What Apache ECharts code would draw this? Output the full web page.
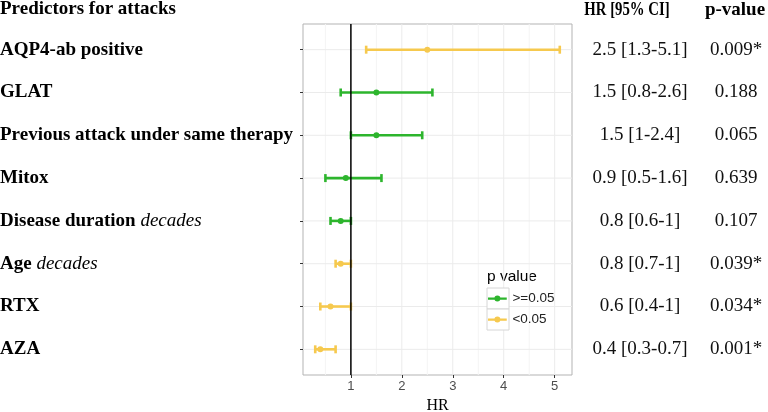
<!DOCTYPE html>
<html><head><meta charset="utf-8">
<script src="https://cdn.jsdelivr.net/npm/echarts@6/dist/echarts.min.js"></script>
<style>html,body{margin:0;padding:0;background:#fff}#c{width:768px;height:412px}</style>
</head><body><div id="c"></div>
<script>
const predictors = ['AQP4-ab positive','GLAT','Previous attack under same therapy','Mitox','Disease duration','Age','RTX','AZA'];
const predictorUnits = ['','','','','decades','decades','',''];
const rows = [1,2,3,4,5,6,7,8];
const hr = [2.5,1.5,1.5,0.9,0.8,0.8,0.6,0.4];
const ciLow = [1.3,0.8,1.0,0.5,0.6,0.7,0.4,0.3];
const ciHigh = [5.1,2.6,2.4,1.6,1.0,1.0,1.0,0.7];
const ciText = ['2.5 [1.3-5.1]','1.5 [0.8-2.6]','1.5 [1-2.4]','0.9 [0.5-1.6]','0.8 [0.6-1]','0.8 [0.7-1]','0.6 [0.4-1]','0.4 [0.3-0.7]'];
const pText = ['0.009*','0.188','0.065','0.639','0.107','0.039*','0.034*','0.001*'];
const pGroup = ['<0.05','>=0.05','>=0.05','>=0.05','>=0.05','<0.05','<0.05','<0.05'];
const groups = ['>=0.05','<0.05'];
const groupColors = ['#2db52d','#f6c94e'];
const xTicks = [1,2,3,4,5];
const xMinor = [0.5,1.5,2.5,3.5,4.5];
const refValue = 1;

const chart = echarts.init(document.getElementById('c'), null, {renderer:'canvas'});

function barItem(params, api){
  const y = api.value(0), lo = api.value(1), hi = api.value(2), m = api.value(3);
  const pL = api.coord([lo, y]), pH = api.coord([hi, y]), pM = api.coord([m, y]);
  const color = api.visual('color');
  const lw = 2.6, cap = 4;
  return {type:'group', children:[
    {type:'line', shape:{x1:pL[0],y1:pL[1],x2:pH[0],y2:pH[1]}, style:{stroke:color,lineWidth:lw}},
    {type:'line', shape:{x1:pL[0],y1:pL[1]-cap,x2:pL[0],y2:pL[1]+cap}, style:{stroke:color,lineWidth:lw}},
    {type:'line', shape:{x1:pH[0],y1:pH[1]-cap,x2:pH[0],y2:pH[1]+cap}, style:{stroke:color,lineWidth:lw}},
    {type:'circle', shape:{cx:pM[0],cy:pM[1],r:3}, style:{fill:color}}
  ]};
}

function gridItem(params, api){
  const kind = api.value(0), v = api.value(1);
  const cs = params.coordSys;
  if (kind === 1) {
    const p = api.coord([1, v]);
    return {type:'line', shape:{x1:cs.x,y1:p[1],x2:cs.x+cs.width,y2:p[1]}, style:{stroke:'#ebebeb',lineWidth:1}};
  }
  const p = api.coord([v, 1]);
  const col = kind === 0 ? '#ebebeb' : (kind === 2 ? '#f4f4f4' : '#000');
  const w = kind === 3 ? 1.5 : 1;
  return {type:'line', shape:{x1:p[0],y1:cs.y,x2:p[0],y2:cs.y+cs.height}, style:{stroke:col,lineWidth:w}};
}

const gridData = [];
xTicks.forEach(v => gridData.push([0, v]));
xMinor.forEach(v => gridData.push([2, v]));
rows.forEach(r => gridData.push([1, r]));
const refData = [[3, refValue]];

const iconPath = 'path://M0,2.8H20V5.2H0Z M13.2,4A3.2,3.2 0 1 1 6.8,4A3.2,3.2 0 1 1 13.2,4Z';

const barSeries = groups.map((g, gi) => ({
  type:'custom', name:g, renderItem:barItem, z:5,
  itemStyle:{color:groupColors[gi]},
  encode:{x:[1,2,3], y:0},
  data: rows.map((r,i)=>[r, ciLow[i], ciHigh[i], hr[i], pGroup[i]]).filter(d => d[4] === g).map(d => d.slice(0,4))
}));

const option = {
  animation:false,
  backgroundColor:'#fff',
  grid:{left:303, right:196, top:24, bottom:37, show:true, borderColor:'#b3b3b3', borderWidth:1, backgroundColor:'#fff', outerBoundsMode:'none'},
  xAxis:{
    type:'value', min:0.06, max:5.34,
    axisLine:{show:false}, splitLine:{show:false},
    axisTick:{show:true, customValues:xTicks, length:3, lineStyle:{color:'#333'}},
    axisLabel:{customValues:xTicks, fontSize:13, color:'#4d4d4d', fontFamily:'Liberation Sans', margin:5},
    name:'HR', nameLocation:'middle', nameGap:21,
    nameTextStyle:{fontFamily:'Liberation Serif', fontSize:16, color:'#000'}
  },
  yAxis:[{
    type:'value', min:0.4, max:8.6, inverse:true, position:'left',
    axisLine:{show:false}, splitLine:{show:false},
    axisTick:{show:true, customValues:rows, length:3, lineStyle:{color:'#333'}},
    axisLabel:{customValues:rows, align:'left', margin:303,
      formatter:(v)=>{const i=Math.round(v)-1; return predictorUnits[i] ? '{b|'+predictors[i]+' }{i|'+predictorUnits[i]+'}' : '{b|'+predictors[i]+'}';},
      rich:{
        b:{fontFamily:'Liberation Serif', fontWeight:'bold', fontSize:19, color:'#000'},
        i:{fontFamily:'Liberation Serif', fontStyle:'italic', fontSize:19, color:'#000'}
      }}
  },{
    type:'value', min:0.4, max:8.6, inverse:true, position:'right',
    axisLine:{show:false}, splitLine:{show:false}, axisTick:{show:false},
    axisLabel:{customValues:rows, align:'left', margin:10,
      formatter:(v)=>{const i=Math.round(v)-1; return '{a|'+ciText[i]+'}{p|'+pText[i]+'}';},
      rich:{
        a:{fontFamily:'Liberation Serif', fontSize:19, color:'#111', width:116, align:'center'},
        p:{fontFamily:'Liberation Serif', fontSize:19, color:'#111', width:76, align:'center'}
      }}
  }],
  legend:{
    left:488, top:288, orient:'vertical', itemGap:0, padding:0, z:10,
    itemWidth:20, itemHeight:6, selectedMode:false,
    textStyle:{fontFamily:'Liberation Sans', fontSize:13.5, color:'#222', lineHeight:21},
    data:groups.map(g=>({name:g, icon:iconPath}))
  },
  graphic:[
    {type:'text', x:0, y:9, style:{text:'Predictors for attacks', fontFamily:'Liberation Serif', fontWeight:'bold', fontSize:19, fill:'#000', textVerticalAlign:'middle'}},
    {type:'text', x:627, y:10, scaleX:0.82, style:{text:'HR [95% CI]', fontFamily:'Liberation Serif', fontWeight:'bold', fontSize:18, fill:'#000', textAlign:'center', textVerticalAlign:'middle'}},
    {type:'text', x:735, y:10, style:{text:'p-value', fontFamily:'Liberation Serif', fontWeight:'bold', fontSize:19, fill:'#000', textAlign:'center', textVerticalAlign:'middle'}},
    {type:'text', x:487, y:277, style:{text:'p value', fontFamily:'Liberation Sans', fontSize:15.5, fill:'#000', textVerticalAlign:'middle'}},
    {type:'rect', x:487, y:288, z:5, shape:{width:22, height:21}, style:{fill:'#fff', stroke:'#d6d6d6', lineWidth:1}},
    {type:'rect', x:487, y:309, z:5, shape:{width:22, height:21}, style:{fill:'#fff', stroke:'#d6d6d6', lineWidth:1}}
  ],
  series:[
    {type:'custom', name:'grid', renderItem:gridItem, z:1, silent:true, encode:{x:1}, data:gridData},
    ...barSeries,
    {type:'custom', name:'ref', renderItem:gridItem, z:6, silent:true, encode:{x:1}, data:refData}
  ]
};
chart.setOption(option);
</script>
</body></html>
